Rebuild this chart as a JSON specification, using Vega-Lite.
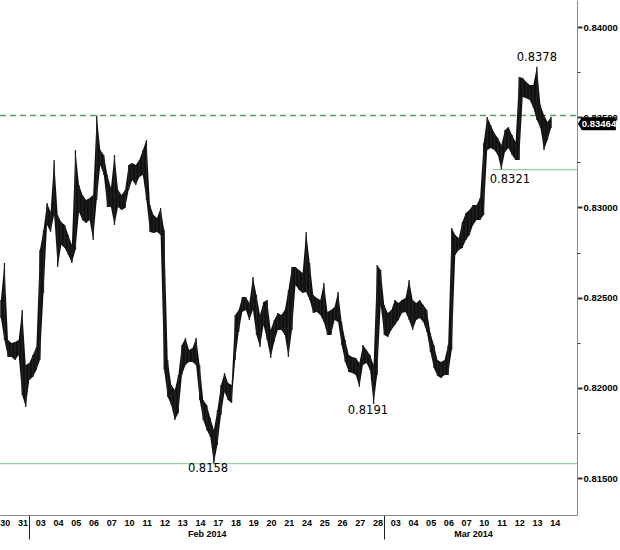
{
  "$schema": "https://vega.github.io/schema/vega-lite/v6.json",
  "width": 577,
  "height": 515,
  "autosize": {"type": "none"},
  "padding": {"left": 0, "top": 0, "right": 43, "bottom": 35},
  "background": "white",
  "config": {
    "view": {"stroke": null},
    "axis": {"labelFont": "Liberation Sans", "labelFontWeight": "bold", "labelColor": "#000", "domainColor": "#888", "grid": false}
  },
  "datasets": {
    "px": [
      {"t":0.4,"h":0.82487,"l":0.82387},{"t":0.6,"h":0.82692,"l":0.82265},{"t":0.8,"h":0.82265,"l":0.82171},{"t":1.0,"h":0.82248,"l":0.82171},
      {"t":1.2,"h":0.82254,"l":0.82154},{"t":1.4,"h":0.82265,"l":0.82182},{"t":1.6,"h":0.82431,"l":0.81960},{"t":1.8,"h":0.82126,"l":0.81894},
      {"t":2.0,"h":0.82138,"l":0.82043},{"t":2.2,"h":0.82182,"l":0.82060},{"t":2.4,"h":0.82226,"l":0.82099},{"t":2.6,"h":0.82764,"l":0.82154},
      {"t":2.8,"h":0.82875,"l":0.82526},{"t":3.0,"h":0.83025,"l":0.82903},{"t":3.2,"h":0.82975,"l":0.82864},{"t":3.4,"h":0.83263,"l":0.82958},
      {"t":3.6,"h":0.82958,"l":0.82670},{"t":3.8,"h":0.82919,"l":0.82792},{"t":4.0,"h":0.82903,"l":0.82775},{"t":4.2,"h":0.82847,"l":0.82736},
      {"t":4.4,"h":0.82792,"l":0.82692},{"t":4.6,"h":0.83318,"l":0.82764},{"t":4.8,"h":0.83124,"l":0.82975},{"t":5.0,"h":0.83069,"l":0.82930},
      {"t":5.2,"h":0.83041,"l":0.82914},{"t":5.4,"h":0.83052,"l":0.82930},{"t":5.6,"h":0.83069,"l":0.82819},{"t":5.8,"h":0.83510,"l":0.83041},
      {"t":6.0,"h":0.83318,"l":0.83235},{"t":6.2,"h":0.83291,"l":0.83180},{"t":6.4,"h":0.83180,"l":0.83002},{"t":6.6,"h":0.83108,"l":0.83002},
      {"t":6.8,"h":0.83291,"l":0.82903},{"t":7.0,"h":0.83097,"l":0.83002},{"t":7.2,"h":0.83069,"l":0.82986},{"t":7.4,"h":0.83097,"l":0.82997},
      {"t":7.6,"h":0.83235,"l":0.83097},{"t":7.8,"h":0.83246,"l":0.83152},{"t":8.0,"h":0.83235,"l":0.83124},{"t":8.2,"h":0.83263,"l":0.83169},
      {"t":8.4,"h":0.83318,"l":0.83180},{"t":8.6,"h":0.83374,"l":0.83041},{"t":8.8,"h":0.83013,"l":0.82864},{"t":9.0,"h":0.82958,"l":0.82858},
      {"t":9.2,"h":0.82941,"l":0.82864},{"t":9.4,"h":0.82997,"l":0.82847},{"t":9.6,"h":0.82875,"l":0.82099},{"t":9.8,"h":0.82154,"l":0.81949},
      {"t":10.0,"h":0.82016,"l":0.81905},{"t":10.2,"h":0.81988,"l":0.81822},{"t":10.4,"h":0.82071,"l":0.81860},{"t":10.6,"h":0.82237,"l":0.82071},
      {"t":10.8,"h":0.82276,"l":0.82126},{"t":11.0,"h":0.82210,"l":0.82143},{"t":11.2,"h":0.82221,"l":0.82143},{"t":11.4,"h":0.82276,"l":0.82126},
      {"t":11.6,"h":0.82126,"l":0.81932},{"t":11.8,"h":0.81932,"l":0.81822},{"t":12.0,"h":0.81905,"l":0.81766},{"t":12.2,"h":0.81833,"l":0.81727},
      {"t":12.4,"h":0.81766,"l":0.81580},{"t":12.6,"h":0.81877,"l":0.81683},{"t":12.8,"h":0.82016,"l":0.81849},{"t":13.0,"h":0.82082,"l":0.81977},
      {"t":13.2,"h":0.82027,"l":0.81932},{"t":13.4,"h":0.82016,"l":0.81916},{"t":13.6,"h":0.82404,"l":0.82154},{"t":13.8,"h":0.82431,"l":0.82309},
      {"t":14.0,"h":0.82503,"l":0.82420},{"t":14.2,"h":0.82503,"l":0.82431},{"t":14.4,"h":0.82470,"l":0.82376},{"t":14.6,"h":0.82614,"l":0.82431},
      {"t":14.8,"h":0.82515,"l":0.82293},{"t":15.0,"h":0.82404,"l":0.82226},{"t":15.2,"h":0.82476,"l":0.82348},{"t":15.4,"h":0.82487,"l":0.82265},
      {"t":15.6,"h":0.82321,"l":0.82165},{"t":15.8,"h":0.82376,"l":0.82254},{"t":16.0,"h":0.82415,"l":0.82321},{"t":16.2,"h":0.82404,"l":0.82321},
      {"t":16.4,"h":0.82431,"l":0.82293},{"t":16.6,"h":0.82542,"l":0.82171},{"t":16.8,"h":0.82670,"l":0.82321},{"t":17.0,"h":0.82670,"l":0.82570},
      {"t":17.2,"h":0.82653,"l":0.82542},{"t":17.4,"h":0.82637,"l":0.82526},{"t":17.6,"h":0.82864,"l":0.82531},{"t":17.8,"h":0.82692,"l":0.82487},
      {"t":18.0,"h":0.82515,"l":0.82415},{"t":18.2,"h":0.82498,"l":0.82420},{"t":18.4,"h":0.82487,"l":0.82404},{"t":18.6,"h":0.82581,"l":0.82365},
      {"t":18.8,"h":0.82420,"l":0.82293},{"t":19.0,"h":0.82431,"l":0.82293},{"t":19.2,"h":0.82448,"l":0.82376},{"t":19.4,"h":0.82531,"l":0.82365},
      {"t":19.6,"h":0.82365,"l":0.82237},{"t":19.8,"h":0.82265,"l":0.82143},{"t":20.0,"h":0.82182,"l":0.82088},{"t":20.2,"h":0.82171,"l":0.82082},
      {"t":20.4,"h":0.82165,"l":0.82071},{"t":20.6,"h":0.82138,"l":0.82005},{"t":20.8,"h":0.82237,"l":0.82126},{"t":21.0,"h":0.82210,"l":0.82138},
      {"t":21.2,"h":0.82182,"l":0.82099},{"t":21.4,"h":0.82126,"l":0.81910},{"t":21.6,"h":0.82681,"l":0.82071},{"t":21.8,"h":0.82653,"l":0.82459},
      {"t":22.0,"h":0.82459,"l":0.82293},{"t":22.2,"h":0.82415,"l":0.82282},{"t":22.4,"h":0.82431,"l":0.82321},{"t":22.6,"h":0.82487,"l":0.82348},
      {"t":22.8,"h":0.82470,"l":0.82376},{"t":23.0,"h":0.82487,"l":0.82415},{"t":23.2,"h":0.82498,"l":0.82420},{"t":23.4,"h":0.82598,"l":0.82376},
      {"t":23.6,"h":0.82487,"l":0.82321},{"t":23.8,"h":0.82470,"l":0.82376},{"t":24.0,"h":0.82487,"l":0.82387},{"t":24.2,"h":0.82459,"l":0.82365},
      {"t":24.4,"h":0.82431,"l":0.82309},{"t":24.6,"h":0.82304,"l":0.82199},{"t":24.8,"h":0.82237,"l":0.82110},{"t":25.0,"h":0.82154,"l":0.82066},
      {"t":25.2,"h":0.82143,"l":0.82054},{"t":25.4,"h":0.82154,"l":0.82071},{"t":25.6,"h":0.82237,"l":0.82071},{"t":25.8,"h":0.82886,"l":0.82210},
      {"t":26.0,"h":0.82847,"l":0.82736},{"t":26.2,"h":0.82831,"l":0.82764},{"t":26.4,"h":0.82919,"l":0.82775},{"t":26.6,"h":0.82969,"l":0.82819},
      {"t":26.8,"h":0.82986,"l":0.82847},{"t":27.0,"h":0.83013,"l":0.82903},{"t":27.2,"h":0.83013,"l":0.82930},{"t":27.4,"h":0.83052,"l":0.82930},
      {"t":27.6,"h":0.83357,"l":0.82958},{"t":27.8,"h":0.83501,"l":0.83318},{"t":28.0,"h":0.83457,"l":0.83329},{"t":28.2,"h":0.83412,"l":0.83318},
      {"t":28.4,"h":0.83385,"l":0.83291},{"t":28.6,"h":0.83346,"l":0.83210},{"t":28.8,"h":0.83429,"l":0.83307},{"t":29.0,"h":0.83446,"l":0.83329},
      {"t":29.2,"h":0.83401,"l":0.83291},{"t":29.4,"h":0.83363,"l":0.83263},{"t":29.6,"h":0.83723,"l":0.83263},{"t":29.8,"h":0.83717,"l":0.83612},
      {"t":30.0,"h":0.83695,"l":0.83606},{"t":30.2,"h":0.83679,"l":0.83595},{"t":30.4,"h":0.83679,"l":0.83551},{"t":30.6,"h":0.83780,"l":0.83485},
      {"t":30.8,"h":0.83568,"l":0.83440},{"t":31.0,"h":0.83512,"l":0.83318},{"t":31.2,"h":0.83473,"l":0.83374},{"t":31.4,"h":0.83501,"l":0.83440}
    ],
    "levels": [
      {"name": "low", "v": 0.8158, "a": 0.35, "b": 32.86},
      {"name": "support", "v": 0.8321, "a": 28.1, "b": 32.86},
      {"name": "resistance", "v": 0.8351, "a": 0.35, "b": 32.86}
    ],
    "ann": [
      {"t": 30.6, "v": 0.83828, "label": "0.8378"},
      {"t": 29.08, "v": 0.83152, "label": "0.8321"},
      {"t": 21.08, "v": 0.81872, "label": "0.8191"},
      {"t": 12.07, "v": 0.8155, "label": "0.8158"}
    ],
    "last": [{"price": 0.83464, "label": "0.83464"}]
  },
  "layer": [
    {
      "data": {"name": "levels"},
      "transform": [{"filter": "datum.name === 'low'"}],
      "mark": {"type": "rule", "color": "#92d39c", "strokeWidth": 1.3},
      "encoding": {
        "x": {
          "field": "a", "type": "quantitative",
          "scale": {"domain": [0.35, 32.86], "nice": false, "zero": false},
          "axis": {"orient": "bottom", "title": null, "values": [2, 22], "labels": false, "domain": false, "ticks": true, "tickSize": 24, "tickColor": "#222", "tickWidth": 1}
        },
        "x2": {"field": "b"},
        "y": {"field": "v", "type": "quantitative", "title": null}
      }
    },
    {
      "data": {"name": "levels"},
      "transform": [{"filter": "datum.name === 'support'"}],
      "mark": {"type": "rule", "color": "#92d39c", "strokeWidth": 1.3},
      "encoding": {
        "x": {"field": "a", "type": "quantitative", "scale": {"domain": [0.35, 32.86], "nice": false, "zero": false}, "axis": null},
        "x2": {"field": "b"},
        "y": {"field": "v", "type": "quantitative", "title": null}
      }
    },
    {
      "data": {"name": "levels"},
      "transform": [{"filter": "datum.name === 'resistance'"}],
      "mark": {"type": "rule", "color": "#4da85a", "strokeWidth": 1.6, "strokeDash": [6, 4]},
      "encoding": {
        "x": {
          "field": "a", "type": "quantitative",
          "scale": {"domain": [0.35, 32.86], "nice": false, "zero": false},
          "axis": {"orient": "bottom", "title": null, "values": [12, 27], "labelExpr": "datum.value < 20 ? 'Feb 2014' : 'Mar 2014'", "domain": false, "ticks": false, "labelPadding": 14, "labelFontSize": 9, "labelOverlap": false, "labelFlush": false}
        },
        "x2": {"field": "b"},
        "y": {"field": "v", "type": "quantitative", "title": null}
      }
    },
    {
      "data": {"name": "px"},
      "mark": {"type": "area", "color": "#111", "opacity": 1, "interpolate": "linear"},
      "encoding": {
        "x": {"field": "t", "type": "quantitative", "scale": {"domain": [0.35, 32.86], "nice": false, "zero": false}, "axis": null},
        "y": {"field": "h", "type": "quantitative", "title": null},
        "y2": {"field": "l"}
      }
    },
    {
      "data": {"name": "px"},
      "mark": {"type": "rule", "color": "#222", "strokeWidth": 1.3},
      "encoding": {
        "x": {
          "field": "t", "type": "quantitative",
          "scale": {"domain": [0.35, 32.86], "nice": false, "zero": false},
          "axis": {
            "orient": "bottom", "title": null,
            "values": [0.5,1.5,2.5,3.5,4.5,5.5,6.5,7.5,8.5,9.5,10.5,11.5,12.5,13.5,14.5,15.5,16.5,17.5,18.5,19.5,20.5,21.5,22.5,23.5,24.5,25.5,26.5,27.5,28.5,29.5,30.5,31.5],
            "labelExpr": "['30','31','03','04','05','06','07','10','11','12','13','14','17','18','19','20','21','24','25','26','27','28','03','04','05','06','07','10','11','12','13','14'][floor(datum.value)]",
            "ticks": false, "labelOverlap": false, "labelFlush": false, "labelFontSize": 9, "labelPadding": 3, "labelOffset": 2, "domainColor": "#888"
          }
        },
        "y": {
          "field": "h", "type": "quantitative",
          "scale": {"domain": [0.81295, 0.8415], "nice": false, "zero": false},
          "axis": {
            "orient": "right", "title": null,
            "values": [0.815,0.8175,0.82,0.8225,0.825,0.8275,0.83,0.8325,0.835,0.8375,0.84],
            "labelExpr": "abs(datum.value*200 - round(datum.value*200)) < 0.01 ? format(datum.value, '.5f') : ''",
            "tickSize": {"condition": {"test": "abs(datum.value*200 - round(datum.value*200)) < 0.01", "value": 5}, "value": 3},
            "tickWidth": {"condition": {"test": "abs(datum.value*200 - round(datum.value*200)) < 0.01", "value": 2}, "value": 1},
            "tickColor": "#333", "labelFontSize": 9.5, "labelPadding": 1, "labelOverlap": false, "labelFlush": false, "domainColor": "#888"
          }
        },
        "y2": {"field": "l"}
      }
    },
    {
      "data": {"name": "ann"},
      "mark": {"type": "text", "font": "DejaVu Sans", "fontSize": 11.5, "color": "#000", "baseline": "middle", "align": "center"},
      "encoding": {
        "x": {"field": "t", "type": "quantitative", "scale": {"domain": [0.35, 32.86], "nice": false, "zero": false}, "axis": null},
        "y": {"field": "v", "type": "quantitative", "title": null},
        "text": {"field": "label"}
      }
    },
    {
      "data": {"name": "last"},
      "mark": {"type": "point", "filled": true, "color": "#000", "opacity": 1, "clip": false, "size": 1444, "shape": "M-1,0 L-0.79,-0.342 L1,-0.342 L1,0.342 L-0.79,0.342 Z"},
      "encoding": {
        "x": {"datum": 33.98, "type": "quantitative", "scale": {"domain": [0.35, 32.86], "nice": false, "zero": false}, "axis": null},
        "y": {"field": "price", "type": "quantitative", "title": null}
      }
    },
    {
      "data": {"name": "last"},
      "mark": {"type": "text", "font": "Liberation Sans", "fontWeight": "bold", "fontSize": 9.5, "color": "#fff", "baseline": "middle", "align": "center", "clip": false},
      "encoding": {
        "x": {"datum": 34.1, "type": "quantitative", "scale": {"domain": [0.35, 32.86], "nice": false, "zero": false}, "axis": null},
        "y": {"field": "price", "type": "quantitative", "title": null},
        "text": {"field": "label"}
      }
    }
  ],
  "resolve": {"axis": {"x": "independent"}}
}
